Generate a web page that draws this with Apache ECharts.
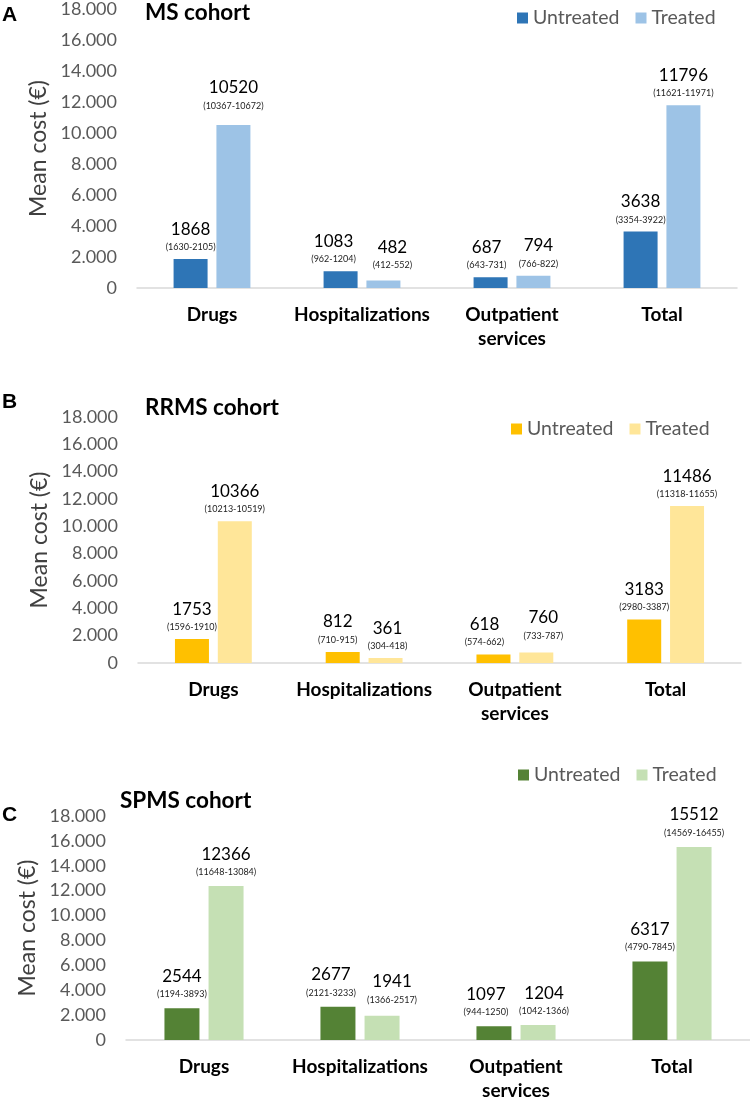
<!DOCTYPE html>
<html>
<head>
<meta charset="utf-8">
<script src="https://cdn.jsdelivr.net/npm/echarts@6/dist/echarts.min.js"></script>
<style>
html,body{margin:0;padding:0;background:#fff;}
#chart{width:750px;height:1103px;}
</style>
</head>
<body>
<div id="chart"></div>
<script>
// ---- Data ----
const categories = ['Drugs', 'Hospitalizations', 'Outpatient\nservices', 'Total'];
const seriesNames = ['Untreated', 'Treated'];
const yMax = 18000;
const yInterval = 2000;

const msUntreated = [1868, 1083, 687, 3638];
const msUntreatedCI = ['1630-2105', '962-1204', '643-731', '3354-3922'];
const msTreated = [10520, 482, 794, 11796];
const msTreatedCI = ['10367-10672', '412-552', '766-822', '11621-11971'];

const rrmsUntreated = [1753, 812, 618, 3183];
const rrmsUntreatedCI = ['1596-1910', '710-915', '574-662', '2980-3387'];
const rrmsTreated = [10366, 361, 760, 11486];
const rrmsTreatedCI = ['10213-10519', '304-418', '733-787', '11318-11655'];

const spmsUntreated = [2544, 2677, 1097, 6317];
const spmsUntreatedCI = ['1194-3893', '2121-3233', '944-1250', '4790-7845'];
const spmsTreated = [12366, 1941, 1204, 15512];
const spmsTreatedCI = ['11648-13084', '1366-2517', '1042-1366', '14569-16455'];

// ---- Layout / style ----
const FONT = 'Lato';
const panels = [
  {letter: 'A', title: 'MS cohort', u: msUntreated, uci: msUntreatedCI, t: msTreated, tci: msTreatedCI,
   colors: ['#2E75B6', '#9DC3E6'],
   grid: {left: 137, top: 7, width: 600, height: 281}, barWidth: 34, labelDist: 6,
   labelShiftU: [[0, 0], [-7, 0], [-4, 0], [0, 0]],
   labelShiftT: [[0, -7], [9, -3], [5, 0], [0, 0]],
   letterPos: [2, 15], titlePos: [145, 13], legendPos: [517, 8]},
  {letter: 'B', title: 'RRMS cohort', u: rrmsUntreated, uci: rrmsUntreatedCI, t: rrmsTreated, tci: rrmsTreatedCI,
   colors: ['#FFC000', '#FFE699'],
   grid: {left: 138, top: 417, width: 603, height: 246}, barWidth: 34, labelDist: 6,
   labelShiftU: [[0, 0], [-5, 0], [-9, 0], [0, 0]],
   labelShiftT: [[0, 0], [2, 0], [7, -5], [0, 0]],
   letterPos: [2, 402], titlePos: [145, 408], legendPos: [511, 419]},
  {letter: 'C', title: 'SPMS cohort', u: spmsUntreated, uci: spmsUntreatedCI, t: spmsTreated, tci: spmsTreatedCI,
   colors: ['#548235', '#C5E0B4'],
   grid: {left: 126, top: 816, width: 624, height: 227}, barWidth: 35, labelDist: 8,
   labelShiftU: [[0, 0], [-7, 0], [-8, 0], [0, 0]],
   labelShiftT: [[0, 0], [10, -2], [6, 0], [0, 0]],
   letterPos: [2, 815], titlePos: [120, 801], legendPos: [518, 765]}
];

const grids = [], xAxes = [], yAxes = [], series = [], legends = [], graphics = [];

panels.forEach((p, i) => {
  grids.push(Object.assign({containLabel: false}, p.grid));
  xAxes.push({
    type: 'category', gridIndex: i, data: categories,
    axisLine: {lineStyle: {color: '#D9D9D9', width: 1.5}},
    axisTick: {show: false},
    axisLabel: {interval: 0, fontFamily: FONT, fontWeight: 'bold', fontSize: 19, color: '#000',
                margin: 15, lineHeight: 24}
  });
  yAxes.push({
    type: 'value', gridIndex: i, min: 0, max: yMax, interval: yInterval,
    splitLine: {show: false}, axisLine: {show: false}, axisTick: {show: false},
    axisLabel: {fontFamily: FONT, fontSize: 18, color: '#595959', margin: 20,
                formatter: v => v === 0 ? '0' : (v / 1000) + '.000'},
    name: 'Mean cost (€)', nameLocation: 'middle', nameGap: 78,
    nameTextStyle: {fontFamily: FONT, fontSize: 23, color: '#404040'}
  });
  const mk = (name, data, ci, color, shifts) => ({
    type: 'bar', name: p.letter + ':' + name, xAxisIndex: i, yAxisIndex: i,
    data: data.map((v, k) => ({value: v, label: {offset: shifts[k]}})),
    barWidth: p.barWidth, barGap: '26%',
    itemStyle: {color: color},
    label: {
      show: true, position: 'top', distance: p.labelDist,
      formatter: prm => '{a|' + prm.value + '}\n{b|(' + ci[prm.dataIndex] + ')}',
      rich: {
        a: {fontFamily: FONT, fontSize: 17, lineHeight: 24, color: '#000'},
        b: {fontFamily: FONT, fontSize: 9, lineHeight: 12, color: '#222'}
      }
    }
  });
  series.push(mk(seriesNames[0], p.u, p.uci, p.colors[0], p.labelShiftU));
  series.push(mk(seriesNames[1], p.t, p.tci, p.colors[1], p.labelShiftT));
  legends.push({
    data: seriesNames.map(n => p.letter + ':' + n),
    left: p.legendPos[0], top: p.legendPos[1], orient: 'horizontal', padding: 0,
    itemWidth: 11, itemHeight: 11, itemGap: 16, icon: 'rect', selectedMode: false,
    formatter: n => n.split(':')[1],
    textStyle: {fontFamily: FONT, fontSize: 19.5, color: '#595959'}
  });
  graphics.push({
    type: 'text', x: p.letterPos[0], y: p.letterPos[1],
    style: {text: p.letter, font: 'bold 21px "Liberation Sans"', fill: '#000', textVerticalAlign: 'middle'}
  });
  graphics.push({
    type: 'text', x: p.titlePos[0], y: p.titlePos[1],
    style: {text: p.title, font: 'bold 22.5px ' + FONT, fill: '#000', textVerticalAlign: 'middle'}
  });
});

const chart = echarts.init(document.getElementById('chart'), null, {renderer: 'canvas'});
chart.setOption({
  animation: false,
  backgroundColor: '#fff',
  grid: grids, xAxis: xAxes, yAxis: yAxes, series: series, legend: legends, graphic: graphics
});
</script>
</body>
</html>
